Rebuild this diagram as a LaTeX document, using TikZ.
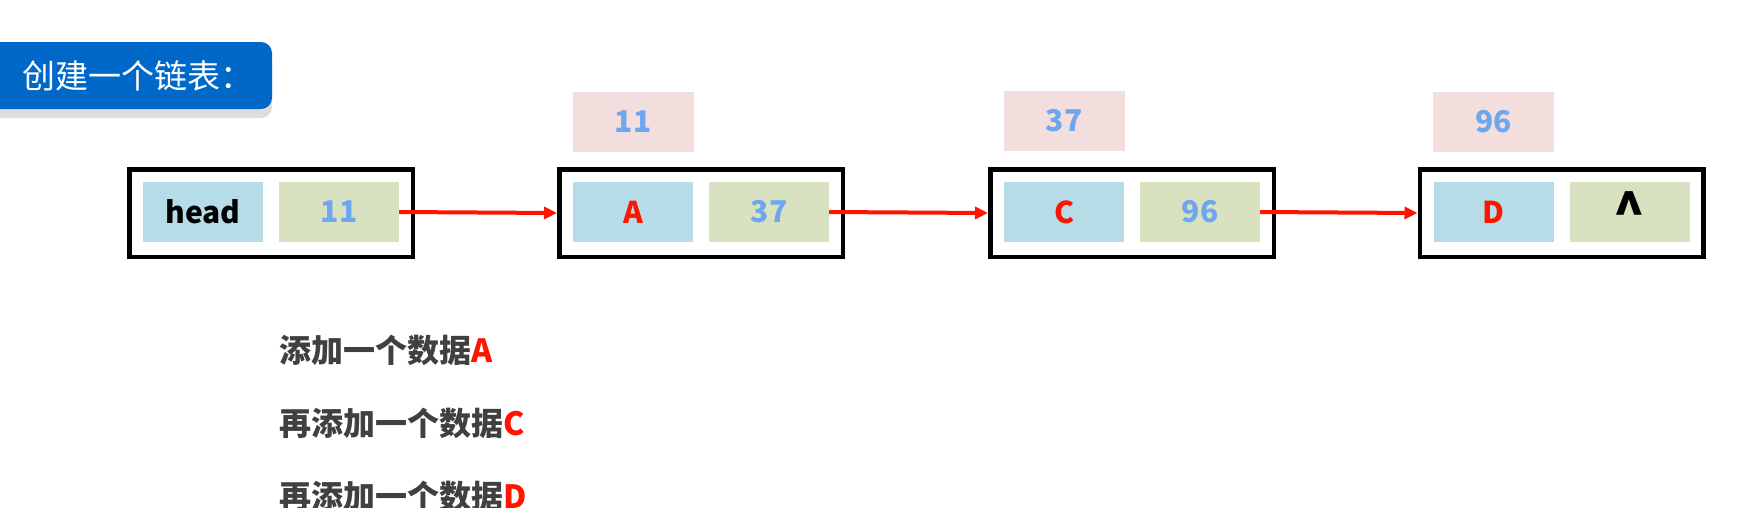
\documentclass[tikz,border=0pt]{standalone}
\usepackage{fontspec}
\setmainfont{Noto Sans CJK SC}
\usetikzlibrary{arrows.meta}
\definecolor{lblblue}{RGB}{0,104,201}
\definecolor{shadowgray}{RGB}{222,222,224}
\definecolor{cellblue}{RGB}{182,220,232}
\definecolor{cellgreen}{RGB}{216,226,192}
\definecolor{cellpink}{RGB}{242,222,220}
\definecolor{numblue}{RGB}{110,166,240}
\definecolor{datared}{RGB}{255,20,0}
\definecolor{txtgray}{RGB}{64,64,64}
\tikzset{
  outerbox/.style={draw=black, line width=4.5pt, minimum width=283.5pt, minimum height=87.5pt, inner sep=0pt},
  datacell/.style={fill=cellblue, minimum width=120pt, minimum height=60pt, inner sep=0pt, font=\fontsize{30}{30}\selectfont\bfseries},
  nextcell/.style={fill=cellgreen, minimum width=120pt, minimum height=60pt, inner sep=0pt, font=\fontsize{30}{30}\selectfont\bfseries, text=numblue},
  pinkcell/.style={fill=cellpink, minimum width=121pt, minimum height=60pt, inner sep=0pt, font=\fontsize{30}{30}\selectfont\bfseries, text=numblue},
  link/.style={draw=datared, line width=4pt, -{Triangle[length=13pt,width=12pt]}, shorten <=0pt, shorten >=0pt},
  steptext/.style={anchor=west, inner sep=0pt, text=txtgray, font=\fontsize{32}{32}\selectfont\bfseries},
}
\begin{document}
\begin{tikzpicture}[x=1pt,y=-1pt]
\useasboundingbox (0,0) rectangle (1764,507);
% title label
\fill[shadowgray, rounded corners=11pt] (-12,52) rectangle (272,118);
\node[fill=lblblue, rounded corners=11pt, minimum width=284pt, minimum height=67pt, inner sep=0pt] (lbl) at (130,75.5) {};
\node[anchor=west, text=white, inner sep=0pt, font=\fontsize{33}{33}\selectfont] (lbltext) at (22,75.5) {创建一个链表：};
% boxes
\foreach \i/\x in {0/127,1/557,2/988,3/1417.5}{
  \node[outerbox] (box\i) at (\x+144,213) {};
}
\node[datacell] (d0) at (127+76,212) {head};
\node[nextcell] (n0) at (127+212,212) {11};
\node[datacell, text=datared] (d1) at (557+76,212) {A};
\node[nextcell] (n1) at (557+212,212) {37};
\node[datacell, text=datared] (d2) at (988+76,212) {C};
\node[nextcell] (n2) at (988+212,212) {96};
\node[datacell, text=datared] (d3) at (1417.5+76,212) {D};
\node[nextcell, text=black, font=\fontsize{52}{52}\selectfont\bfseries] (n3) at (1417.5+212,212) {\raisebox{-17pt}{\textasciicircum}};
\node[pinkcell] (p1) at (557+76,122) {11};
\node[pinkcell] (p2) at (988+76,121) {37};
\node[pinkcell] (p3) at (1417.5+76,121.5) {96};
% links
\draw[link] (n0.east) -- (box1.west);
\draw[link] (n1.east) -- (box2.west);
\draw[link] (n2.east) -- (box3.west);
% steps
\node[steptext] (s1) at (279,350) {添加一个数据\textcolor{datared}{A}};
\node[steptext] (s2) at (279,423) {再添加一个数据\textcolor{datared}{C}};
\node[steptext] (s3) at (279,496) {再添加一个数据\textcolor{datared}{D}};
\end{tikzpicture}
\end{document}
